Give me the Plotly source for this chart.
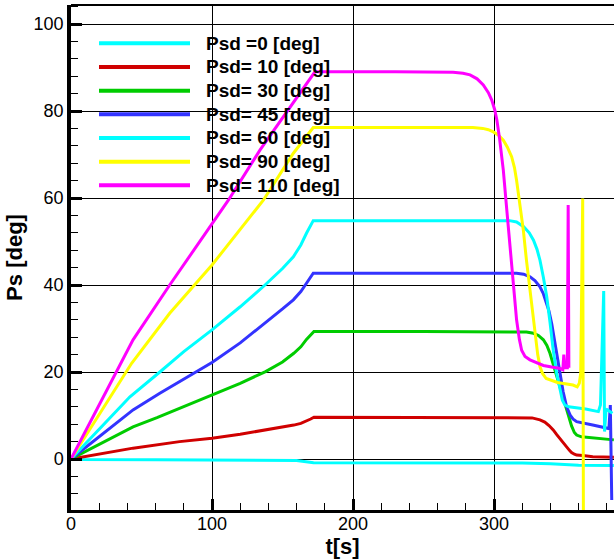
import plotly.graph_objects as go

# ---- data ----
names = ["Psd =0 [deg]", "Psd= 10 [deg]", "Psd= 30 [deg]", "Psd= 45 [deg]",
         "Psd= 60 [deg]", "Psd= 90 [deg]", "Psd= 110 [deg]"]
colors = ["#00FFFF", "#D00000", "#00CC00", "#3333FF", "#00FFFF", "#FFFF00", "#FF00FF"]

t_0 = [0, 5, 60, 120, 160, 172, 200, 260, 320, 340, 350, 360, 385]
p_0 = [0, -0.1, -0.15, -0.2, -0.35, -0.85, -0.85, -0.85, -0.9, -1.1, -1.35, -1.45, -1.5]

t_10 = [0, 44, 77, 100, 120, 138, 150, 158, 163, 167, 170, 172.3, 250, 320.8, 327, 332.6,
        336, 339, 342, 344.5, 347, 349.5, 351.5, 353.5, 355, 357, 358.6, 363, 370, 385]
p_10 = [0, 2.5, 4.0, 4.75, 5.7, 6.7, 7.3, 7.8, 8.2, 8.7, 9.2, 9.6, 9.6, 9.6, 9.45, 9.0,
        8.5, 7.7, 6.7, 5.6, 4.5, 3.5, 2.8, 2.0, 1.5, 1.1, 0.9, 0.8, 0.5, 0.4]

t_30 = [0, 44, 61, 100, 120, 138, 150, 158, 163, 167, 170, 172.3, 250, 318, 323, 328, 331.5,
        335, 337.5, 339.7, 342, 344.5, 348, 351.5, 355, 357, 358.6, 362, 370, 385]
p_30 = [0, 7.4, 9.5, 14.7, 17.4, 20.1, 22.3, 24.3, 25.8, 27.5, 28.6, 29.3, 29.3, 29.3, 29.2,
        28.9, 28.4, 27.4, 26.1, 24.3, 21.8, 18.9, 14.8, 11.3, 7.6, 6.1, 5.5, 5.1, 4.8, 4.4]

t_45 = [0, 44, 63, 100, 120, 137.6, 150, 157.7, 163, 167, 170, 171.8, 250, 316, 321, 325.5,
        329, 332.6, 335, 337.4, 339, 341, 343, 345, 346.8, 349, 351.5, 354, 356, 358.6, 370,
        377.5, 381.5, 382.5, 383.5]
p_45 = [0, 11.3, 15.1, 22.2, 26.7, 31.2, 34.5, 36.6, 38.5, 40.4, 41.8, 42.7, 42.7, 42.7, 42.5,
        41.9, 41.0, 39.6, 38.0, 35.8, 34.0, 31.0, 27.0, 23.0, 19.7, 15.5, 12.0, 10.1, 9.2, 8.6,
        7.8, 7.3, 7.0, 12.4, -9.4]

t_60 = [0, 41.8, 63, 80, 100, 120, 137.6, 150, 157.7, 163, 167, 170, 171.8, 250, 311, 316, 321,
        325, 328, 330.5, 332.6, 335, 337.4, 339.7, 342, 344.5, 346.8, 348.5, 350.3, 353, 365,
        374, 375.5, 377.8, 378.4, 379.5, 384]
p_60 = [0, 14.3, 20.0, 24.7, 29.7, 35.0, 40.0, 43.8, 46.5, 49.2, 51.9, 53.8, 54.8, 54.8, 54.8,
        54.5, 53.4, 52.0, 50.3, 48.2, 45.7, 41.8, 37.3, 31.5, 25.0, 19.6, 15.9, 13.5, 12.4, 12.0,
        11.5, 10.9, 12.4, 38.6, 6.3, 11.5, 10.5]

t_90 = [0, 43, 70, 100, 136.4, 157.7, 171.8, 250, 285, 292, 296, 299.5, 303, 306.6, 309.5,
        312.5, 314.5, 316, 318.5, 320.8, 323, 325.5, 327.5, 329, 331, 332.6, 334.5, 337, 345,
        356, 359, 360.5, 361.5, 362.9, 363.4]
p_90 = [0, 22.0, 33.5, 44.6, 59.5, 70.3, 76.2, 76.2, 76.2, 76.0, 75.7, 75.2, 74.5, 73.3, 71.7,
        69.5, 67.0, 64.1, 58.5, 52.6, 45.7, 38.9, 33.0, 29.0, 24.0, 21.2, 19.6, 18.5, 17.6,
        17.0, 16.6, 17.4, 19.7, 59.9, -12.0]

t_110 = [0, 44, 70, 100, 111.6, 134, 157.7, 173, 230, 262, 271, 278, 283, 288, 292.4, 296,
         298.4, 300.5, 302, 304, 306.6, 309, 311.3, 313.5, 316, 318, 319.6, 322, 325.5, 335,
         346.8, 348.8, 349.5, 350.3, 352, 352.6, 353.1]
p_110 = [0, 27.4, 40.0, 54.2, 59.5, 71.0, 81.8, 89.0, 89.0, 89.0, 88.9, 88.7, 88.3, 87.4, 86.0,
         84.2, 82.5, 80.3, 78.0, 73.5, 66.4, 57.5, 48.8, 40.0, 32.0, 27.5, 25.0, 23.6, 22.8, 21.5,
         20.8, 20.5, 24.0, 21.0, 21.0, 58.4, 21.0]

series_t = [t_0, t_10, t_30, t_45, t_60, t_90, t_110]
series_p = [p_0, p_10, p_30, p_45, p_60, p_90, p_110]

x_ticks = [0, 100, 200, 300]
y_ticks = [0, 20, 40, 60, 80, 100]
x_range = [0, 385.1]
y_range = [-11.72, 104.37]

FONT = "Liberation Sans, Arial, sans-serif"

fig = go.Figure()
for t, p, c, n in zip(series_t, series_p, colors, names):
    fig.add_trace(go.Scatter(x=t, y=p, mode="lines", name=n,
                             line=dict(color=c, width=3), showlegend=False))

# manual legend (long sample lines, as in the reference)
W, H = 543.0, 505.0
row0, step = 43.3, 23.67
for i, (n, c) in enumerate(zip(names, colors)):
    py = row0 + i * step
    yp = (510 - py) / H
    fig.add_shape(type="line", xref="paper", yref="paper",
                  x0=(99 - 71) / W, x1=(190 - 71) / W, y0=yp, y1=yp,
                  line=dict(color=c, width=4), layer="above")
    fig.add_annotation(xref="paper", yref="paper", x=(204 - 71) / W, y=yp,
                       xanchor="left", yanchor="middle", showarrow=False,
                       text=n, font=dict(family=FONT, size=19, color="black", weight="bold"))

# top frame line
fig.add_shape(type="line", xref="paper", yref="paper", x0=0, x1=1, y0=1, y1=1,
              line=dict(color="black", width=2), layer="above")

fig.update_layout(
    width=614, height=560,
    margin=dict(l=71, r=0, t=5, b=50),
    paper_bgcolor="white", plot_bgcolor="white",
    font=dict(family=FONT, size=18, color="black"),
    showlegend=False,
)
fig.update_xaxes(
    range=x_range, tickvals=x_ticks, ticktext=[str(v) for v in x_ticks],
    showline=True, linecolor="black", linewidth=3,
    ticks="inside", ticklen=11, tickwidth=3, tickcolor="black",
    showgrid=True, gridcolor="black", gridwidth=1, zeroline=False,
    minor=dict(dtick=20, tick0=0, ticks="inside", ticklen=7, tickwidth=1,
               tickcolor="black", showgrid=False),
    tickfont=dict(family=FONT, size=18), ticklabelstandoff=-5,
    title=dict(text="t[s]", font=dict(family=FONT, size=22, weight="bold"), standoff=6),
)
fig.update_yaxes(
    range=y_range, tickvals=y_ticks, ticktext=[str(v) for v in y_ticks],
    showline=True, linecolor="black", linewidth=3.5,
    ticks="inside", ticklen=11, tickwidth=3, tickcolor="black",
    showgrid=True, gridcolor="black", gridwidth=1, zeroline=False,
    minor=dict(dtick=4, tick0=0, ticks="inside", ticklen=7, tickwidth=1,
               tickcolor="black", showgrid=False),
    tickfont=dict(family=FONT, size=18),
    title=dict(text="Ps [deg]", font=dict(family=FONT, size=22, weight="bold"), standoff=6),
)

fig.write_html("out.html", config={"displayModeBar": False},
               post_script="document.body.style.margin='0';document.body.style.overflow='hidden';")
